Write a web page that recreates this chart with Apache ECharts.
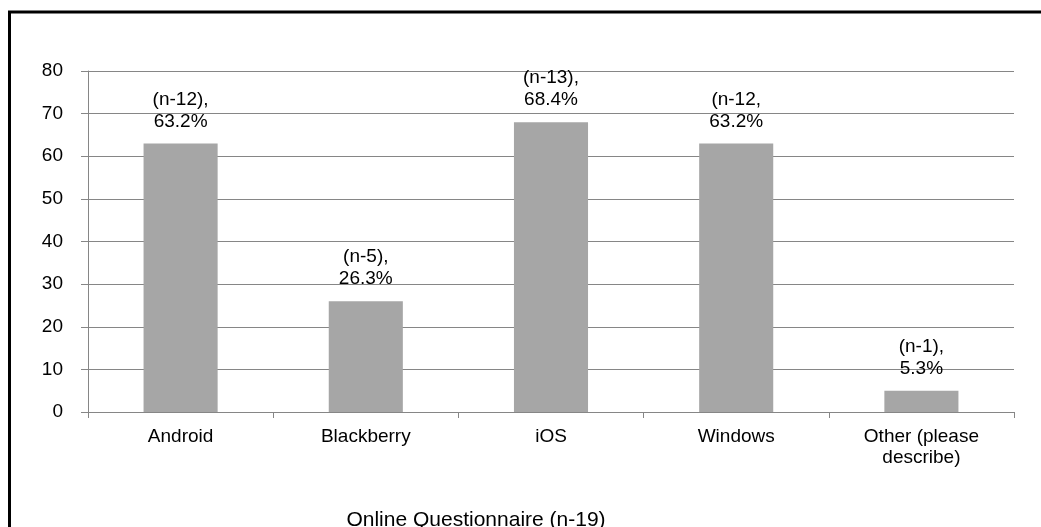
<!DOCTYPE html>
<html>
<head>
<meta charset="utf-8">
<script src="https://cdn.jsdelivr.net/npm/echarts@6/dist/echarts.min.js"></script>
<style>
  html, body { margin: 0; padding: 0; background: #fff; }
  #main { width: 1041px; height: 527px; }
</style>
</head>
<body>
<div id="main"></div>
<script>
var categories = ['Android', 'Blackberry', 'iOS', 'Windows', 'Other (please\ndescribe)'];
var values = [63, 26, 68, 63, 5];
var labels = ['(n-12),\n63.2%', '(n-5),\n26.3%', '(n-13),\n68.4%', '(n-12,\n63.2%', '(n-1),\n5.3%'];
var titleText = 'Online Questionnaire (n-19)';

var chart = echarts.init(document.getElementById('main'));
var font = 'Liberation Sans, Arial, sans-serif';

chart.setOption({
  animation: false,
  title: {
    text: titleText,
    left: 471,
    top: 505,
    textAlign: 'center',
    textStyle: { fontFamily: font, fontSize: 21, fontWeight: 'normal', color: '#000' }
  },
  grid: { left: 88, right: 27, top: 71, bottom: 115 },
  graphic: [{
    type: 'rect',
    shape: { x: 9.5, y: 12, width: 1100, height: 600 },
    style: { fill: null, stroke: '#000', lineWidth: 3 },
    silent: true
  }],
  xAxis: {
    type: 'category',
    data: categories,
    axisLine: { lineStyle: { color: '#868686' } },
    axisTick: { show: true, length: 6, lineStyle: { color: '#868686' } },
    axisLabel: { fontFamily: font, fontSize: 19, color: '#000', margin: 14, lineHeight: 21 }
  },
  yAxis: {
    type: 'value',
    min: 0,
    max: 80,
    interval: 10,
    axisLine: { show: true, lineStyle: { color: '#868686' } },
    axisTick: { show: true, length: 7, lineStyle: { color: '#868686' } },
    splitLine: { lineStyle: { color: '#868686' } },
    axisLabel: { fontFamily: font, fontSize: 19, color: '#000', margin: 25 }
  },
  series: [{
    type: 'bar',
    data: values,
    barWidth: '40%',
    itemStyle: { color: '#a6a6a6' },
    label: {
      show: true,
      position: 'top',
      distance: 11,
      fontFamily: font,
      fontSize: 19,
      lineHeight: 22,
      color: '#000',
      formatter: function (p) { return labels[p.dataIndex]; }
    }
  }]
});
</script>
</body>
</html>
